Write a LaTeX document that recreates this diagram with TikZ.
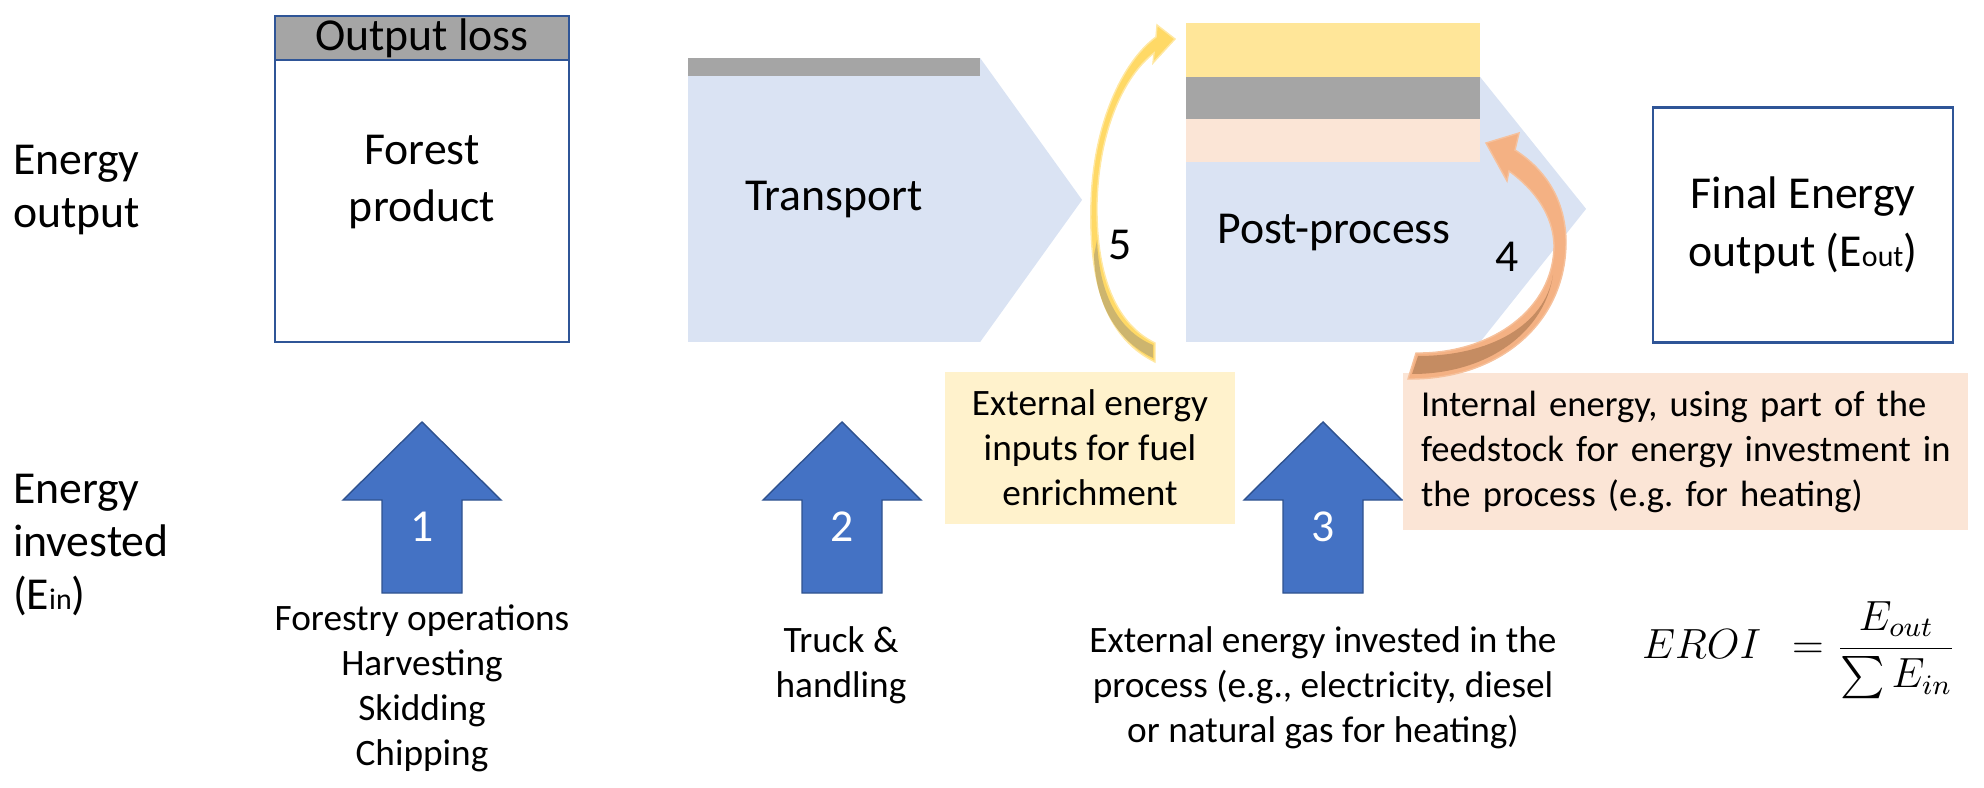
\documentclass[tikz,border=0pt]{standalone}
\usepackage{amsmath}
\usepackage{fontspec}
\setmainfont{Carlito}
\usepackage{tikz}
\usetikzlibrary{positioning,calc}

\definecolor{boxblue}{HTML}{2F5597}
\definecolor{stageblue}{HTML}{DAE3F3}
\definecolor{lossgray}{HTML}{A5A5A5}
\definecolor{enrichyellow}{HTML}{FFE699}
\definecolor{peach}{HTML}{FBE5D6}
\definecolor{cream}{HTML}{FFF2CC}
\definecolor{investblue}{HTML}{4472C4}
\definecolor{investedge}{HTML}{2F528F}
\definecolor{arrowyellow}{HTML}{FFD966}
\definecolor{arrowtan}{HTML}{CDB56E}
\definecolor{arroworange}{HTML}{F4B183}
\definecolor{arrowbrown}{HTML}{C58C62}

\newcommand{\bigtext}{\fontsize{13}{16}\selectfont}
\newcommand{\smalltext}{\fontsize{10.6}{12.8}\selectfont\frenchspacing}
\newcommand{\smallsub}[1]{{\fontsize{8.5}{10}\selectfont #1}}

\begin{document}
\begin{tikzpicture}[x=0.01cm, y=-0.01cm, every node/.style={inner sep=0pt, outer sep=0pt},
	bigtxt/.style={font=\bigtext, align=center},
	note/.style={font=\smalltext, align=center},
	outbox/.style={draw=boxblue, line width=0.7pt, fill=white, minimum width=2.94cm},
	stage/.style={fill=stageblue, font=\bigtext},
	band/.style={minimum width=2.94cm},
	num/.style={font=\bigtext, text=white},
	invest/.style={fill=investblue, draw=investedge, line width=0.4pt}]
	\useasboundingbox (0,0) rectangle (1984,788);

	% row labels
	\node (outlbl) at (13,190) [bigtxt, anchor=west, align=left, font=\fontsize{13}{15.3}\selectfont] {Energy\\output};
	\node (inlbl) at (13,545) [bigtxt, anchor=west, align=left, font=\fontsize{13}{15}\selectfont] {Energy\\invested\\(E\smallsub{in})};

	% forest product
	\node (forest) at (422,201) [outbox, minimum height=2.82cm] {};
	\node (loss) [outbox, fill=lossgray, minimum height=0.44cm, above=0pt of forest, font=\bigtext] {Output loss};
	\node (forestlbl) at (422,182) [bigtxt] {Forest\\product};

	% transport
	\node (transport) at (834,200) [stage, minimum width=2.92cm, minimum height=2.84cm] {Transport};
	\fill [lossgray] (transport.north west) rectangle ++(292,18);
	\fill [stageblue] (transport.north east) -- ++(102,142) -- (transport.south east) -- cycle;

	% post-process with its bands
	\node (post) at (1333,252) [stage, minimum width=2.94cm, minimum height=1.80cm] {};
	\node (postpeach) [band, fill=peach, minimum height=0.43cm, above=0pt of post] {};
	\node (postgray) [band, fill=lossgray, minimum height=0.42cm, above=0pt of postpeach] {};
	\node (postyellow) [band, fill=enrichyellow, minimum height=0.54cm, above=0pt of postgray] {};
	\fill [stageblue] (postgray.north east) -- ++(106,132) -- (post.south east) -- cycle;
	\node (postlbl) at (1334,233) [bigtxt] {Post-process};

	% final output
	\node (final) at (1803,225) [outbox, bigtxt, minimum width=3.00cm, minimum height=2.35cm, font=\fontsize{13}{16.5}\selectfont] {Final Energy\\output (E\smallsub{out})};

	% invested energy
	\foreach \n/\x in {1/422, 2/842, 3/1323} {
		\filldraw [invest] (\x,422) -- ++(79,78) -- ++(-39,0) -- ++(0,93) -- ++(-80,0) -- ++(0,-93) -- ++(-39,0) -- cycle;
		\node (num\n) at (\x,527) [num] {\n};
	}
	\node (forestry) at (422,688) [note] {Forestry operations\\Harvesting\\Skidding\\Chipping};
	\node (truck) at (841,665) [note] {Truck \&\\handling};
	\node (external) at (1323,688) [note] {External energy invested in the\\process (e.g., electricity, diesel\\or natural gas for heating)};

	\node (enrich) at (1090,448) [note, fill=cream, minimum width=2.89cm, minimum height=1.51cm] {External energy\\inputs for fuel\\enrichment};
	\node (internal) at (1403,373) [note, anchor=north west, align=left, fill=peach, text width=5.29cm, inner xsep=0.18cm, minimum height=1.57cm, font=\fontsize{10.4}{12.8}\selectfont\frenchspacing] {Internal energy, using part of the\\\mbox{feedstock for energy investment in}\\the process (e.g. for heating)};

	% curved arrows, 5 = enrichment, 4 = internal
	\filldraw [fill=arrowyellow, draw=arrowyellow!60!white, line width=0.4pt] (1155,362) .. controls (1100,335) and (1089,270) .. (1091,203)
		.. controls (1093,125) and (1122,62) .. (1156,37) -- (1157,25) -- (1175,39) -- (1153,63) -- (1154,53)
		.. controls (1124,76) and (1099,130) .. (1097,203) .. controls (1096,268) and (1112,322) .. (1155,343) -- cycle;
	\fill [arrowtan] (1097,240) .. controls (1099,292) and (1117,330) .. (1153,345) -- (1153,358) .. controls (1112,338) and (1095,298) .. (1094,255) -- cycle;
	\node (five) at (1120,245) [bigtxt] {5};

	\filldraw [fill=arroworange, draw=arroworange!80!white, line width=0.4pt] (1408,379) .. controls (1500,380) and (1567,322) .. (1566,240)
		.. controls (1565,200) and (1546,170) .. (1515,150) -- (1519,133) -- (1486,143) -- (1507,181) -- (1509,171)
		.. controls (1535,190) and (1553,215) .. (1554,245) .. controls (1554,310) and (1490,354) .. (1416,353) -- cycle;
	\fill [arrowbrown] (1553,275) .. controls (1545,325) and (1490,356) .. (1418,356) -- (1412,374) .. controls (1490,374) and (1545,330) .. (1553,275) -- cycle;
	\node (four) at (1507,257) [bigtxt] {4};

	% ratio
	\node (eroi) at (1642,650) [anchor=west, font=\fontsize{12}{14}\selectfont] {$EROI\ \ = \dfrac{E_{out}}{\textstyle\sum E_{in}}$};
\end{tikzpicture}
\end{document}
